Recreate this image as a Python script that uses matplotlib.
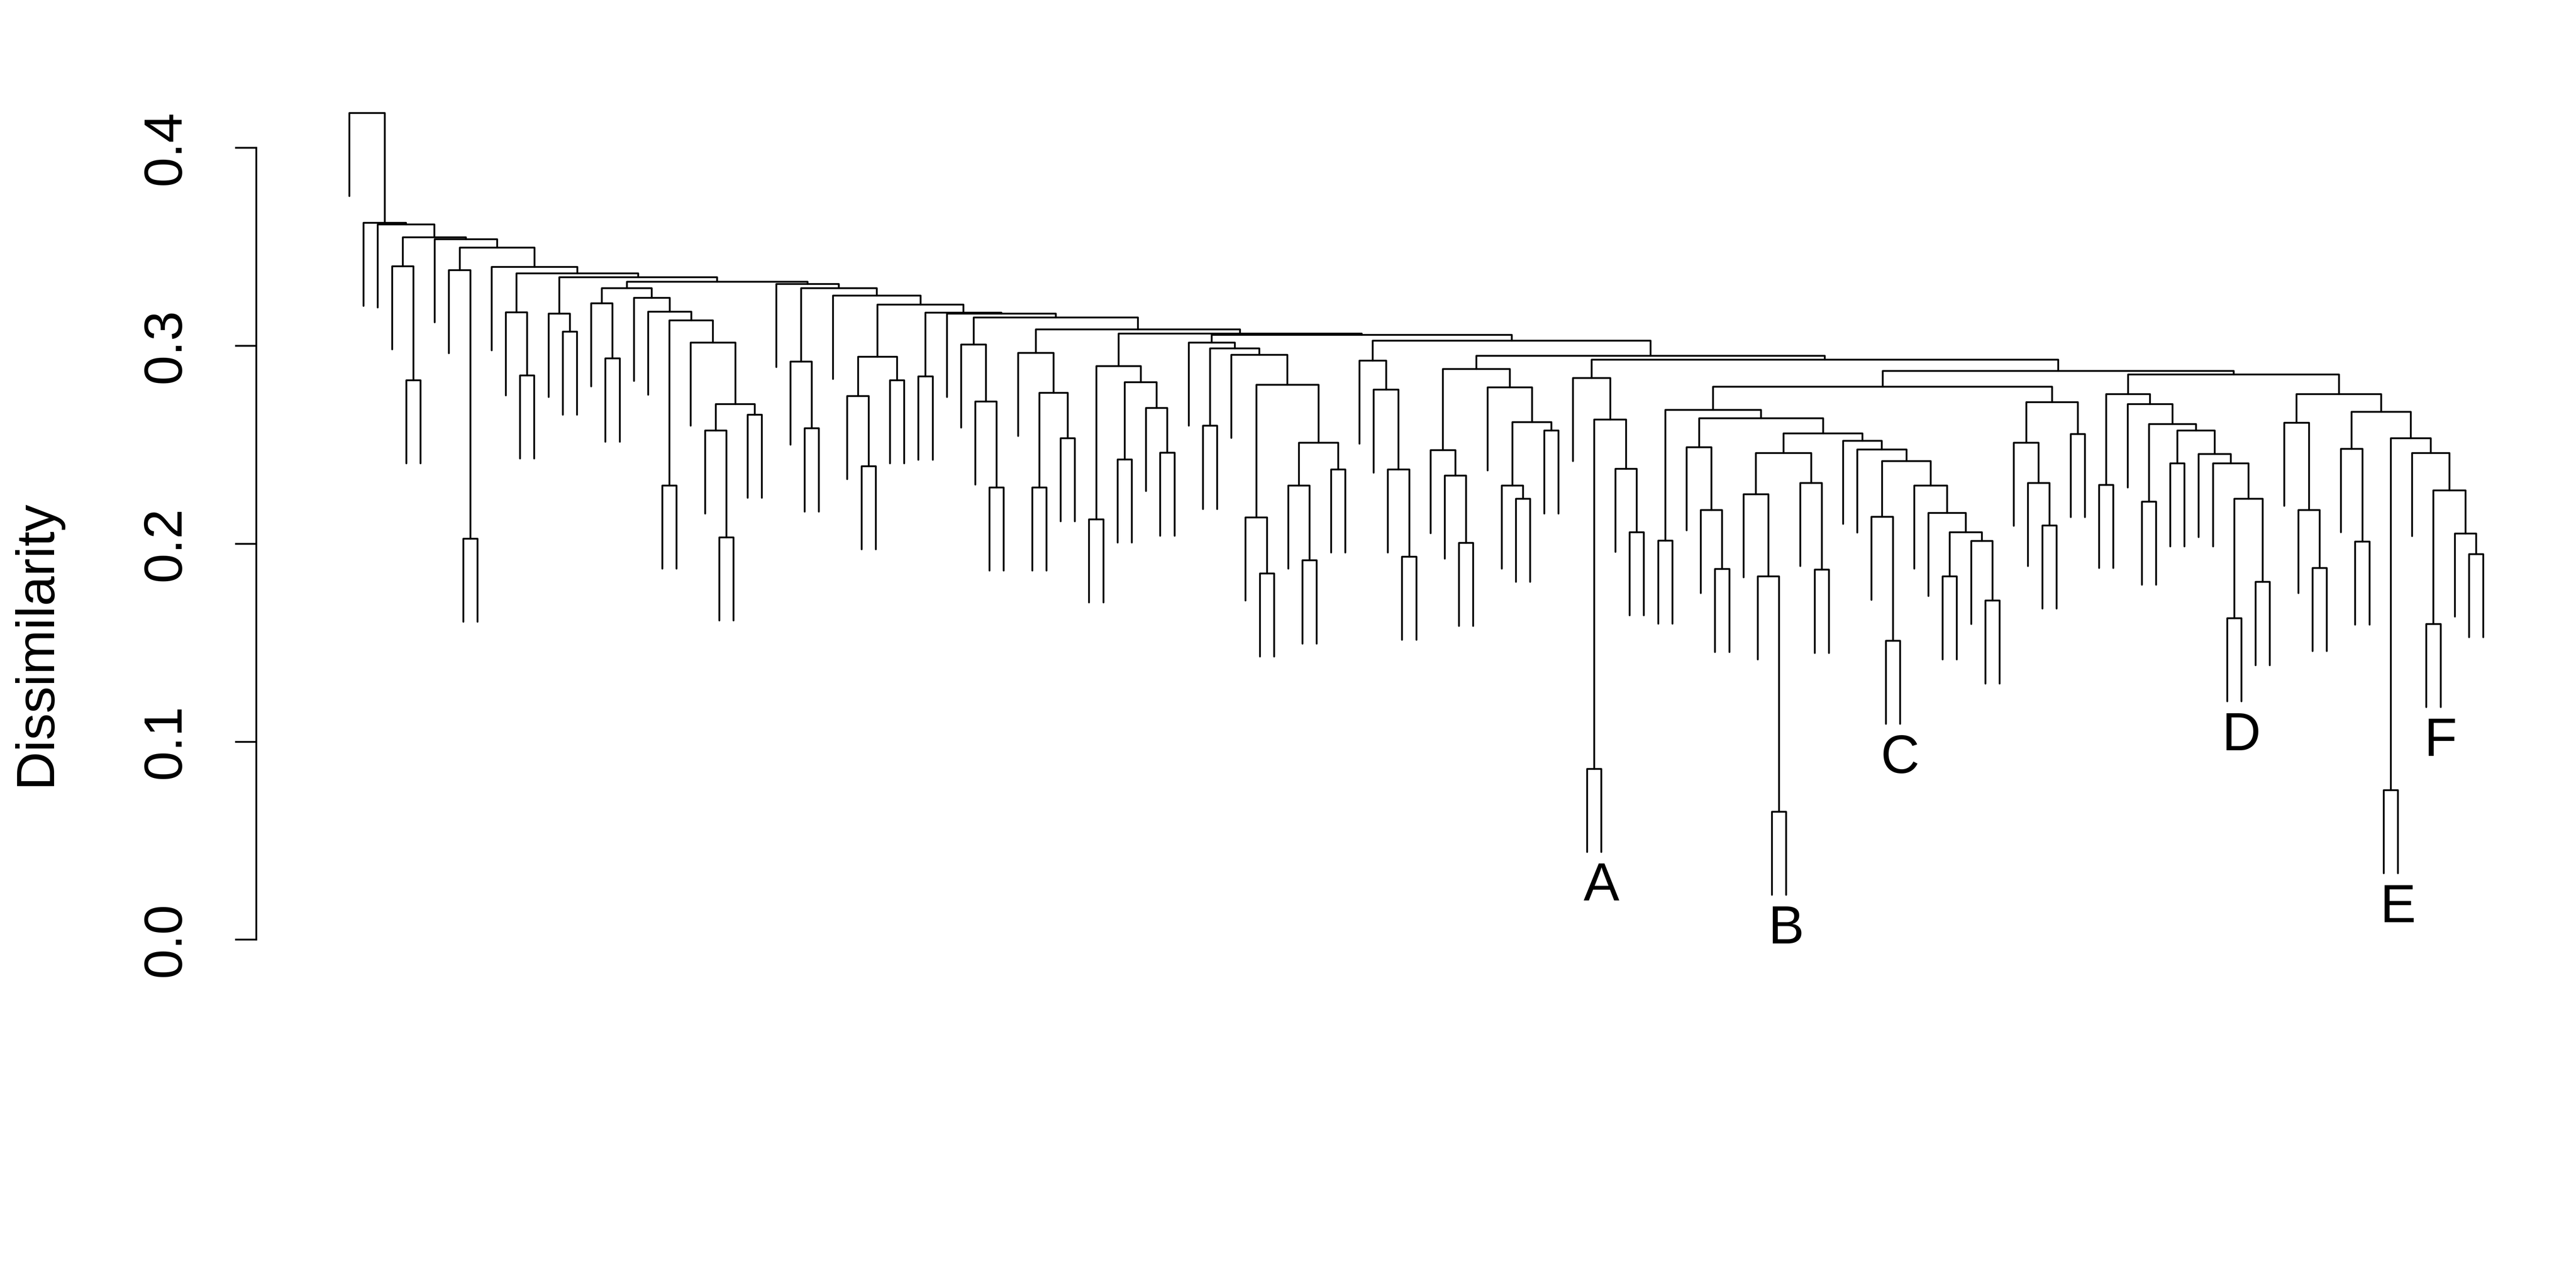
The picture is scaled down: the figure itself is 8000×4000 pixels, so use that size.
import matplotlib
matplotlib.use("Agg")
import matplotlib.pyplot as plt

plt.rcParams['font.family'] = ['Liberation Sans', 'DejaVu Sans']

# dendrogram: 151 leaves in plotting order (0..150),
# each merge given by the first/last leaf it spans and its height
n_leaves = 151
hang = 0.042

node_lo = [
    0, 1, 2, 3, 3, 4, 6, 7, 7, 8,
    10, 11, 11, 12, 14, 14, 15, 17, 17, 17,
    18, 20, 21, 22, 22, 24, 25, 25, 26, 28,
    30, 31, 31, 32, 34, 35, 35, 35, 36, 38,
    40, 40, 42, 43, 43, 44, 45, 47, 47, 48,
    48, 50, 52, 52, 52, 54, 54, 56, 57, 59,
    59, 60, 60, 62, 63, 63, 64, 66, 66, 67,
    69, 71, 71, 72, 73, 74, 76, 76, 76, 77,
    78, 80, 81, 81, 82, 84, 86, 86, 87, 87,
    89, 90, 92, 92, 92, 92, 94, 94, 95, 96,
    98, 98, 98, 99, 100, 102, 103, 105, 106, 107,
    107, 108, 110, 111, 112, 112, 114, 115, 117, 117,
    118, 119, 121, 123, 123, 123, 125, 126, 126, 128,
    128, 130, 131, 132, 132, 134, 136, 136, 137, 138,
    140, 140, 141, 143, 143, 145, 146, 146, 148, 149,
]
node_hi = [
    150, 150, 150, 150, 5, 5, 150, 150, 9, 9,
    150, 150, 13, 13, 150, 16, 16, 150, 29, 19,
    19, 29, 29, 29, 23, 29, 29, 27, 27, 29,
    150, 150, 33, 33, 150, 150, 39, 37, 37, 39,
    150, 41, 150, 150, 46, 46, 46, 150, 51, 51,
    49, 51, 150, 58, 53, 58, 55, 58, 58, 150,
    70, 70, 61, 70, 70, 65, 65, 70, 68, 68,
    70, 150, 75, 75, 75, 75, 150, 85, 79, 79,
    79, 85, 85, 83, 83, 85, 150, 91, 91, 88,
    91, 91, 150, 122, 116, 93, 116, 97, 97, 97,
    116, 104, 101, 101, 101, 104, 104, 116, 116, 116,
    109, 109, 116, 116, 116, 113, 116, 116, 122, 120,
    120, 120, 122, 150, 135, 124, 135, 135, 127, 135,
    129, 135, 135, 135, 133, 135, 150, 139, 139, 139,
    150, 142, 142, 150, 144, 150, 150, 147, 150, 150,
]
node_height = [
    0.4176, 0.3621, 0.3613, 0.3549, 0.3402, 0.2826, 0.3538, 0.3496, 0.3383, 0.2026,
    0.3398, 0.3366, 0.3170, 0.2851, 0.3347, 0.3162, 0.3072, 0.3323, 0.3292, 0.3215,
    0.2936, 0.3242, 0.3172, 0.3128, 0.2294, 0.3017, 0.2705, 0.2573, 0.2033, 0.2652,
    0.3313, 0.3291, 0.2921, 0.2583, 0.3253, 0.3209, 0.2945, 0.2747, 0.2392, 0.2826,
    0.3168, 0.2845, 0.3162, 0.3143, 0.3007, 0.2719, 0.2284, 0.3083, 0.2964, 0.2762,
    0.2284, 0.2534, 0.3062, 0.2898, 0.2124, 0.2817, 0.2426, 0.2686, 0.2460, 0.3055,
    0.3017, 0.2987, 0.2596, 0.2955, 0.2803, 0.2133, 0.1850, 0.2511, 0.2294, 0.1916,
    0.2375, 0.3026, 0.2926, 0.2779, 0.2375, 0.1935, 0.2949, 0.2883, 0.2473, 0.2345,
    0.2005, 0.2790, 0.2615, 0.2294, 0.2228, 0.2573, 0.2930, 0.2837, 0.2628, 0.0863,
    0.2379, 0.2058, 0.2873, 0.2794, 0.2677, 0.2016, 0.2634, 0.2488, 0.2171, 0.1873,
    0.2558, 0.2458, 0.2250, 0.1835, 0.0647, 0.2307, 0.1869, 0.2520, 0.2477, 0.2417,
    0.2137, 0.1510, 0.2294, 0.2156, 0.2058, 0.1835, 0.2014, 0.1714, 0.2715, 0.2511,
    0.2307, 0.2092, 0.2554, 0.2855, 0.2756, 0.2298, 0.2705, 0.2605, 0.2213, 0.2573,
    0.2407, 0.2454, 0.2407, 0.2228, 0.1624, 0.1807, 0.2756, 0.2611, 0.2171, 0.1878,
    0.2666, 0.2479, 0.2011, 0.2534, 0.0755, 0.2458, 0.2269, 0.1595, 0.2052, 0.1948,
]

label_leaf = [88, 101, 109, 133, 144, 147]
label_text = ['A', 'B', 'C', 'D', 'E', 'F']
y_ticks = [0.0, 0.1, 0.2, 0.3, 0.4]

fig = plt.figure(figsize=(16, 8), dpi=500)
ax = fig.add_axes([0.06385, 0.17818, 0.92225, 0.76849])
ax.set_xlim(-12, 155)
ax.set_ylim(-0.06, 0.44)

# place every merge: x = mean of the two children (R style), leaves at 1..n
pos = {(i, i): (i + 1.0, None) for i in range(n_leaves)}
leaf_bottom = {}
nodes = sorted(zip(node_lo, node_hi, node_height), key=lambda t: t[1] - t[0])
for lo, hi, h in nodes:
    for m in range(lo, hi):
        if (lo, m) in pos and (m + 1, hi) in pos:
            break
    xl, hl = pos[(lo, m)]
    xr, hr = pos[(m + 1, hi)]
    yl = h - hang if hl is None else hl
    yr = h - hang if hr is None else hr
    if hl is None:
        leaf_bottom[lo] = yl
    if hr is None:
        leaf_bottom[hi] = yr
    ax.plot([xl, xl, xr, xr], [yl, h, h, yr], color='black', lw=0.8,
            solid_capstyle='round', solid_joinstyle='round')
    pos[(lo, hi)] = ((xl + xr) / 2, h)

for leaf, txt in zip(label_leaf, label_text):
    ax.annotate(txt, (leaf + 1, leaf_bottom[leaf]), xytext=(0, -21.8),
                textcoords='offset points', ha='center', va='baseline', fontsize=24)

for s in ['top', 'right', 'bottom']:
    ax.spines[s].set_visible(False)
ax.spines['left'].set_position(('data', -5.54))
ax.spines['left'].set_bounds(0, 0.4)
ax.spines['left'].set_linewidth(0.8)
ax.set_xticks([])
ax.set_yticks(y_ticks, labels=[f'{t:.1f}' for t in y_ticks])
ax.tick_params(axis='y', length=9.5, width=0.8, pad=19.7, labelsize=24, labelrotation=90)
for lbl in ax.get_yticklabels():
    lbl.set_va('center')

fig.text(0.014, 0.5007, 'Dissimilarity', rotation=90, ha='center', va='center', fontsize=24)

fig.savefig('out.png', dpi=500)
